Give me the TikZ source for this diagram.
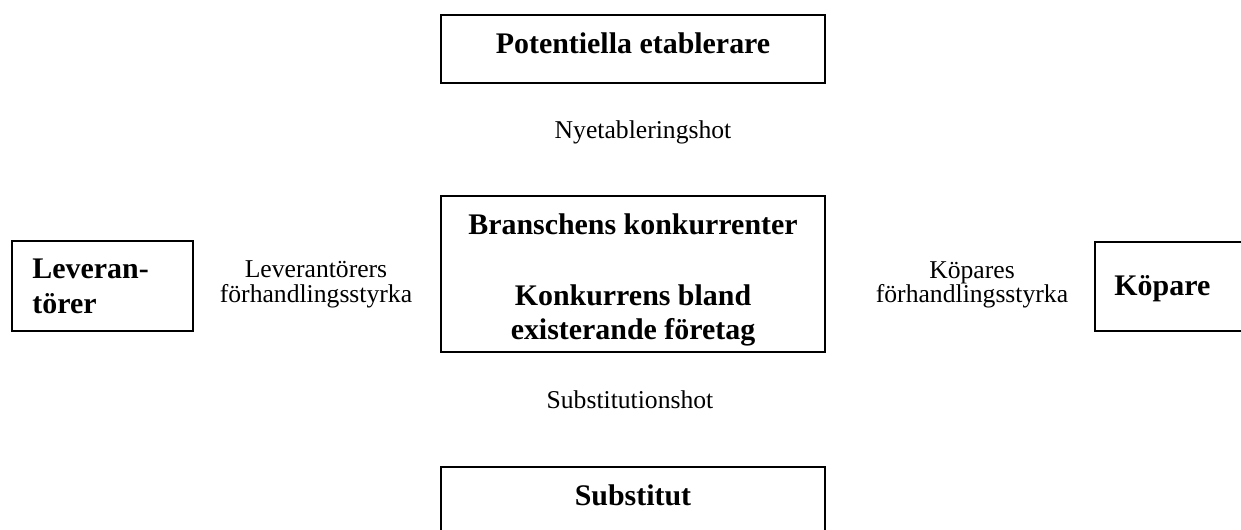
\documentclass[tikz,border=0pt]{standalone}
\usepackage{fontspec}
\setmainfont{Liberation Serif}
\begin{document}
\begin{tikzpicture}[x=0.468pt,y=-0.468pt,
  box/.style={draw=black,line width=0.9pt,rectangle,inner sep=0pt,outer sep=0pt},
  big/.style={font=\fontsize{14}{16}\selectfont\bfseries,inner sep=0pt},
  small/.style={font=\fontsize{12}{14}\selectfont,inner sep=0pt}]
\clip (0,0) rectangle (1241,529);
% boxes (center, size in px)
\node[box,minimum width={384*0.468pt},minimum height={68*0.468pt}] (pe) at (633,49) {};
\node[box,minimum width={384*0.468pt},minimum height={156*0.468pt}] (bk) at (633,274) {};
\node[box,minimum width={181*0.468pt},minimum height={90*0.468pt}] (lev) at (102.5,286) {};
\node[box,minimum width={180*0.468pt},minimum height={89*0.468pt}] (kop) at (1185,286.5) {};
\node[box,minimum width={384*0.468pt},minimum height={68*0.468pt}] (sub) at (633,501) {};
% box texts
\node[big,anchor=base] (pet) at (633,53) {Potentiella etablerare};
\node[big,anchor=base] (bkt1) at (633,234) {Branschens konkurrenter};
\node[big,anchor=base] (bkt2) at (633,305) {Konkurrens bland};
\node[big,anchor=base] (bkt3) at (633,339) {existerande företag};
\node[big,anchor=base west] (levt1) at (32,278) {Leveran-};
\node[big,anchor=base west] (levt2) at (32,313) {törer};
\node[big,anchor=base west] (kopt) at (1114,295) {Köpare};
\node[big,anchor=base] (subt) at (633,505) {Substitut};
% force labels
\node[small,anchor=base] (ny) at (643,138) {Nyetableringshot};
\node[small,anchor=base] (st) at (630,408) {Substitutionshot};
\node[small,anchor=base] (lf1) at (316,277) {Leverantörers};
\node[small,anchor=base] (lf2) at (316,302) {förhandlingsstyrka};
\node[small,anchor=base] (kf1) at (972,278) {Köpares};
\node[small,anchor=base] (kf2) at (972,302) {förhandlingsstyrka};
\end{tikzpicture}
\end{document}
